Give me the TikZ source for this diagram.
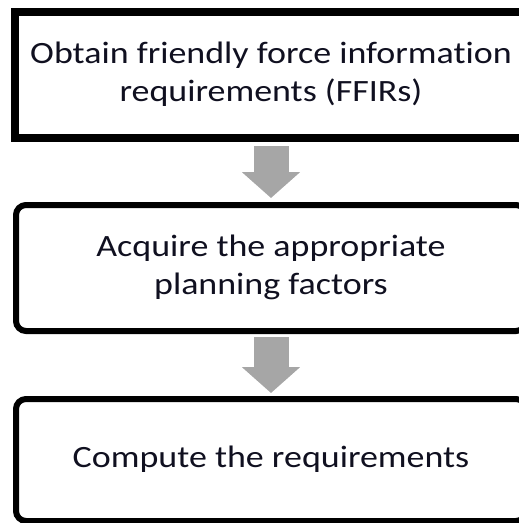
\documentclass[tikz,border=0pt]{standalone}
\usepackage{fontspec}
\setmainfont{Carlito}[Ligatures=NoCommon]
\usetikzlibrary{arrows.meta}
\definecolor{txt}{HTML}{101020}
\definecolor{arrowgray}{HTML}{A6A6A6}
\newcommand{\boxfont}{\fontsize{31}{38}\selectfont}
\newcommand{\stretchtext}[1]{\scalebox{1.16}[1]{\begin{tabular}{@{}c@{}}#1\end{tabular}}}
\tikzset{
  box/.style={draw=black, fill=white, inner sep=0pt, font=\boxfont, text=txt, align=center},
  sharpbox/.style={box, line width=8pt, minimum width=512pt, minimum height=126pt},
  roundbox/.style={box, line width=6pt, rounded corners=10pt, minimum width=510pt},
  flow/.style={draw=arrowgray, line width=35pt, -{Triangle[width=57pt,length=26pt]}}
}
\begin{document}
\begin{tikzpicture}[x=1pt,y=1pt]
  \useasboundingbox (0,0) rectangle (519,-523);
  \node[sharpbox] (b1) at (271,-75) {\stretchtext{Obtain friendly force information\\requirements (FFIRs)}};
  \node[roundbox, minimum height=126pt] (b2) at (271,-268) {\stretchtext{Acquire the appropriate\\planning factors}};
  \node[roundbox, minimum height=122pt] (b3) at (271,-460) {\stretchtext{Compute the requirements}};
  \draw[flow, shorten <=4pt, shorten >=4pt] (b1.south) -- (b2.north);
  \draw[flow, shorten <=3pt, shorten >=3pt] (b2.south) -- (b3.north);
\end{tikzpicture}
\end{document}
